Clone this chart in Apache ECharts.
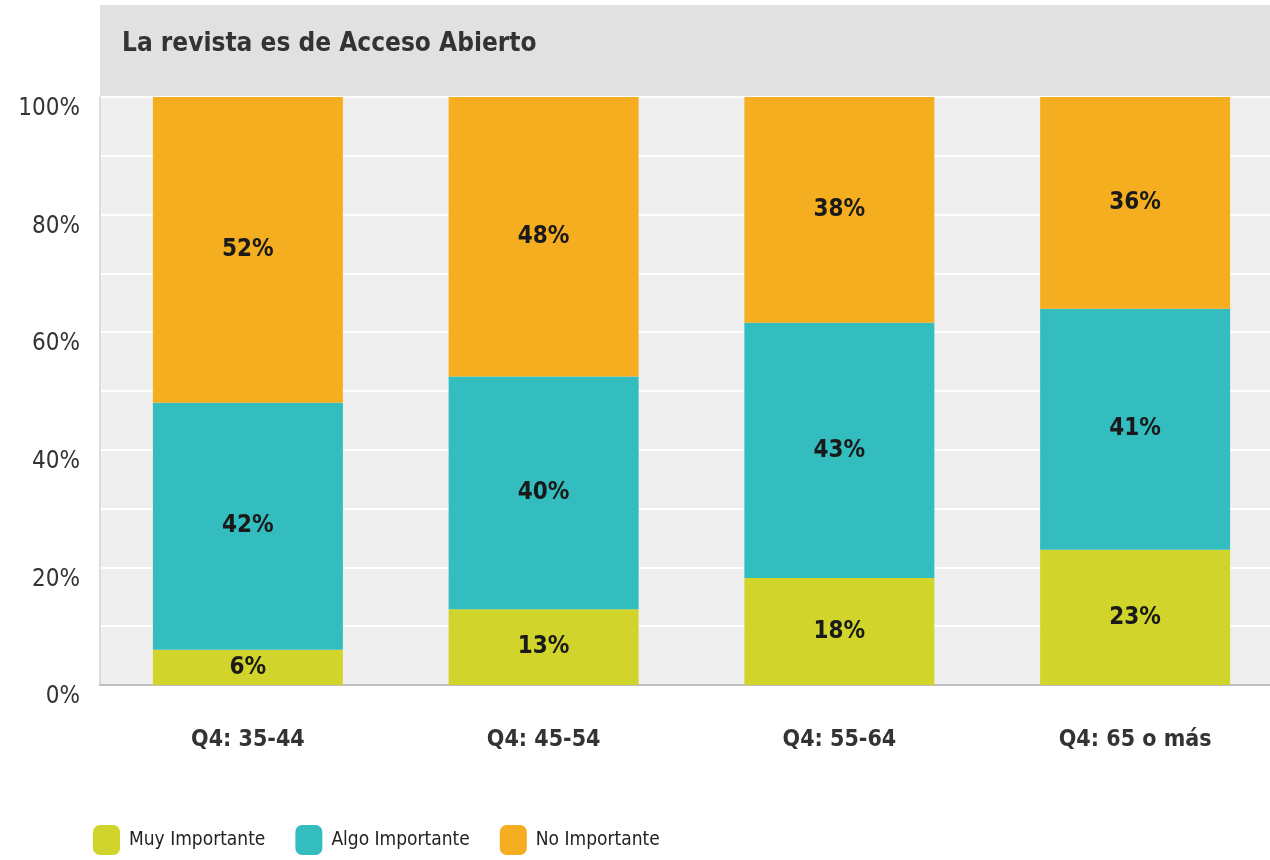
<!DOCTYPE html>
<html>
<head>
<meta charset="utf-8">
<script src="https://cdn.jsdelivr.net/npm/echarts@6/dist/echarts.min.js"></script>
<style>
  html, body { margin: 0; padding: 0; background: #fff; }
  #chart { width: 1270px; height: 860px; }
</style>
</head>
<body>
<div id="chart"></div>
<script>
var FONT = "'Liberation Sans Narrow', 'DejaVu Sans Condensed', 'Liberation Sans', sans-serif";

var titleText = 'La revista es de Acceso Abierto';
var categories = ['Q4: 35-44', 'Q4: 45-54', 'Q4: 55-64', 'Q4: 65 o más'];
var seriesNames = ['Muy Importante', 'Algo Importante', 'No Importante'];
var muyImportante = [6, 13, 18, 23];
var algoImportante = [42, 40, 43, 41];
var noImportante = [52, 48, 38, 36];
var colors = ['#d1d52b', '#33bdbf', '#f5ae1f'];

// bars are stacked to 100%, labels keep the rounded shares
var raw = [muyImportante, algoImportante, noImportante];
var totals = categories.map(function(c, i) {
  return raw[0][i] + raw[1][i] + raw[2][i];
});

function makeSeries(k) {
  return {
    name: seriesNames[k],
    type: 'bar',
    stack: 'total',
    barWidth: 190,
    itemStyle: { color: colors[k] },
    emphasis: { disabled: true },
    label: {
      show: true,
      position: 'inside',
      fontFamily: FONT,
      fontWeight: 'bold',
      fontSize: 24,
      color: '#1a1a1a',
      formatter: function(p) {
        return raw[k][p.dataIndex] + '%';
      }
    },
    data: raw[k].map(function(v, i) {
      return v / totals[i] * 100;
    })
  };
}

var chart = echarts.init(document.getElementById('chart'));
chart.setOption({
  backgroundColor: '#ffffff',
  animation: false,
  graphic: [
    {
      type: 'rect',
      shape: { x: 100, y: 5, width: 1170, height: 92 },
      style: { fill: '#e1e1e1' },
      z: -1
    },
    {
      type: 'text',
      left: 122,
      top: 31,
      style: {
        text: titleText,
        fontFamily: FONT,
        fontWeight: 'bold',
        fontSize: 26,
        fill: '#333333'
      }
    }
  ],
  legend: {
    left: 93,
    top: 825,
    padding: 0,
    icon: 'roundRect',
    itemWidth: 27,
    itemHeight: 30,
    itemGap: 30,
    selectedMode: false,
    textStyle: {
      fontFamily: FONT,
      fontSize: 19,
      color: '#222222',
      padding: [0, 0, 0, 4]
    },
    data: seriesNames
  },
  grid: {
    left: 100,
    top: 97,
    width: 1183,
    height: 588,
    outerBoundsMode: 'none',
    show: true,
    backgroundColor: '#efefef',
    borderWidth: 0
  },
  xAxis: {
    type: 'category',
    data: categories,
    axisLine: { lineStyle: { color: '#bdbdbd', width: 2 } },
    axisTick: { show: false },
    axisLabel: {
      margin: 44,
      fontFamily: FONT,
      fontWeight: 'bold',
      fontSize: 23,
      color: '#333333'
    }
  },
  yAxis: {
    type: 'value',
    min: 0,
    max: 100,
    interval: 10,
    axisLine: { show: true, lineStyle: { color: '#dcdcdc', width: 2 } },
    axisTick: { show: false },
    splitLine: { lineStyle: { color: '#ffffff', width: 2 } },
    axisLabel: {
      margin: 20,
      verticalAlign: 'top',
      fontFamily: FONT,
      fontSize: 24,
      color: '#333333',
      formatter: function(v) {
        return v % 20 === 0 ? v + '%' : '';
      }
    }
  },
  series: [makeSeries(0), makeSeries(1), makeSeries(2)]
});
</script>
</body>
</html>
